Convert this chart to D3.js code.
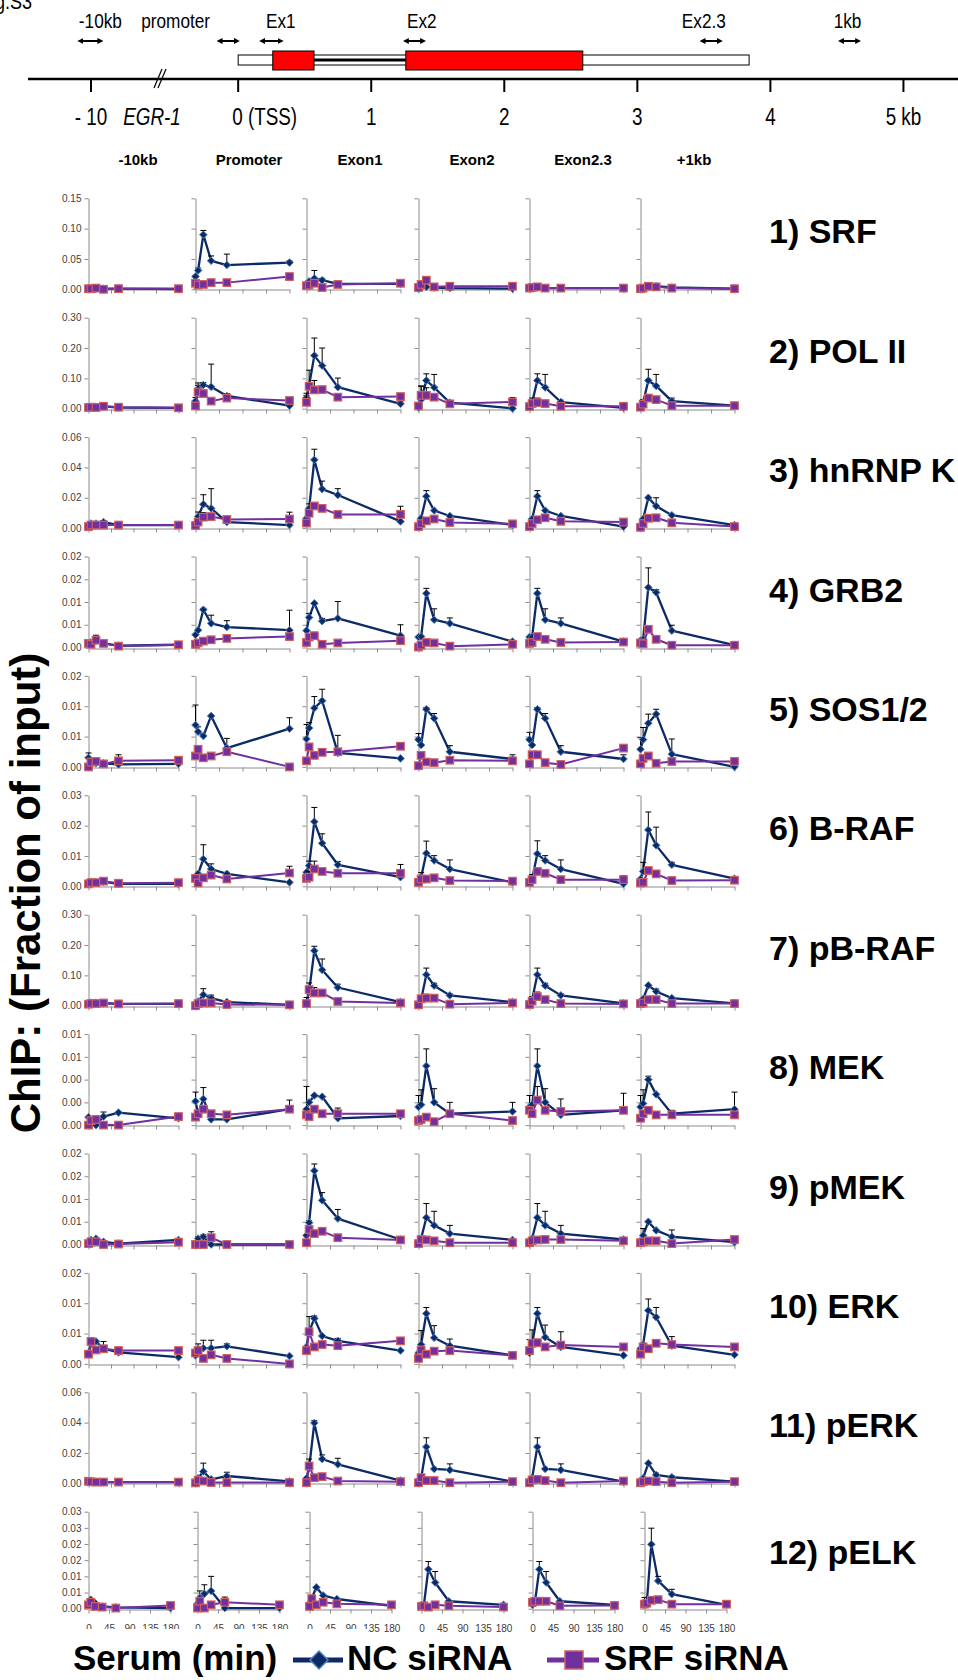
<!DOCTYPE html>
<html>
<head>
<meta charset="utf-8">
<script src="https://cdn.jsdelivr.net/npm/d3@7"></script>
<style>
body { margin: 0; background: #fff; }
svg { display: block; }
text { font-family: 'Liberation Sans', Arial, sans-serif; }
</style>
</head>
<body>
<script>
// time points (min) and panel layout labels
const times = [0, 5, 15, 30, 60, 180];
const xTicks = [0, 45, 90, 135, 180];
const regions = ['-10kb', 'Promoter', 'Exon1', 'Exon2', 'Exon2.3', '+1kb'];
const targets = ['1) SRF', '2) POL II', '3) hnRNP K', '4) GRB2', '5) SOS1/2', '6) B-RAF',
  '7) pB-RAF', '8) MEK', '9) pMEK', '10) ERK', '11) pERK', '12) pELK'];

const yMax = [0.15, 0.30, 0.06, 0.02, 0.015, 0.03, 0.30, 0.008, 0.02, 0.015, 0.06, 0.03];
const yTicks = [
  [0, 0.05, 0.10, 0.15], [0, 0.1, 0.2, 0.3], [0, 0.02, 0.04, 0.06],
  [0, 0.005, 0.01, 0.015, 0.02], [0, 0.005, 0.01, 0.015], [0, 0.01, 0.02, 0.03],
  [0, 0.1, 0.2, 0.3], [0, 0.002, 0.004, 0.006, 0.008], [0, 0.005, 0.01, 0.015, 0.02],
  [0, 0.005, 0.01, 0.015], [0, 0.02, 0.04, 0.06], [0, 0.005, 0.01, 0.015, 0.02, 0.025, 0.03]
];
const yTickLabels = [
  ['0.00', '0.05', '0.10', '0.15'], ['0.00', '0.10', '0.20', '0.30'], ['0.00', '0.02', '0.04', '0.06'],
  ['0.00', '0.01', '0.01', '0.02', '0.02'], ['0.00', '0.01', '0.01', '0.02'], ['0.00', '0.01', '0.02', '0.03'],
  ['0.00', '0.10', '0.20', '0.30'], ['0.00', '0.00', '0.00', '0.01', '0.01'], ['0.00', '0.01', '0.01', '0.02', '0.02'],
  ['0.00', '0.01', '0.01', '0.02'], ['0.00', '0.02', '0.04', '0.06'], ['0.00', '0.01', '0.01', '0.02', '0.02', '0.03', '0.03']
];

// NC siRNA means [row][region][time]
const ncMean = [
  [[0.001,0.001,0.001,0.001,0.001,0.0005],[0.021,0.031,0.090,0.047,0.040,0.044],[0.009,0.013,0.018,0.015,0.009,0.009],[0.001,0.003,0.004,0.003,0.002,0.001],[0.002,0.002,0.003,0.002,0.002,0.002],[0.001,0.002,0.004,0.005,0.003,0.001]],
  [[0.004,0.005,0.006,0.008,0.004,0.003],[0.025,0.065,0.078,0.072,0.042,0.010],[0.036,0.077,0.175,0.142,0.071,0.016],[0.004,0.030,0.093,0.070,0.020,0.001],[0.005,0.020,0.093,0.070,0.022,0.003],[0.005,0.020,0.093,0.075,0.025,0.010]],
  [[0.002,0.003,0.003,0.004,0.002,0.002],[0.002,0.0076,0.0157,0.013,0.004,0.002],[0.0065,0.013,0.045,0.0257,0.0218,0.0044],[0.0007,0.0065,0.021,0.0116,0.008,0.002],[0.001,0.006,0.021,0.0116,0.008,0.001],[0.001,0.006,0.020,0.0145,0.0085,0.002]],
  [[0.0009,0.0011,0.0015,0.0009,0.0004,0.0006],[0.0028,0.0038,0.0083,0.0053,0.0045,0.0038],[0.0037,0.0066,0.0097,0.0058,0.0064,0.0026],[0.0023,0.0024,0.0119,0.0061,0.0053,0.0013],[0.0023,0.0023,0.0119,0.0061,0.0053,0.0013],[0.0015,0.0018,0.0132,0.0121,0.0037,0.0005]],
  [[0.0015,0.0009,0.0006,0.0006,0.0004,0.0005],[0.0069,0.0058,0.0051,0.0084,0.0031,0.0063],[0.0046,0.0064,0.0097,0.0109,0.0023,0.0014],[0.0045,0.0036,0.0095,0.008,0.0025,0.0013],[0.0045,0.0036,0.0095,0.008,0.0025,0.0013],[0.0029,0.0045,0.0072,0.0087,0.0021,0.0]],
  [[0.0012,0.0015,0.0013,0.0015,0.0008,0.0008],[0.0024,0.0041,0.009,0.0057,0.0041,0.0013],[0.0046,0.0068,0.0213,0.0142,0.0071,0.003],[0.0013,0.003,0.0109,0.0085,0.0057,0.0013],[0.0013,0.0024,0.0107,0.0085,0.0057,0.0008],[0.0024,0.0049,0.0186,0.0135,0.0071,0.0025]],
  [[0.008,0.01,0.01,0.008,0.006,0.006],[0.003,0.014,0.036,0.025,0.012,0.003],[0.009,0.047,0.181,0.118,0.060,0.012],[0.007,0.020,0.102,0.066,0.034,0.012],[0.007,0.020,0.102,0.066,0.034,0.008],[0.014,0.022,0.067,0.047,0.025,0.008]],
  [[0.0007,0.0004,0.0,0.00075,0.0011,0.0006],[0.0021,0.001,0.0023,0.0005,0.0005,0.0014],[0.0014,0.002,0.0026,0.0025,0.0006,0.0008],[0.0016,0.0018,0.0052,0.002,0.001,0.0012],[0.0016,0.0018,0.0052,0.002,0.0009,0.0013],[0.0016,0.0019,0.004,0.0027,0.001,0.0014]],
  [[0.0006,0.001,0.0013,0.0006,0.0002,0.001],[0.0,0.0013,0.0017,0.0,0.0,0.0],[0.002,0.0048,0.0162,0.0097,0.0057,0.0011],[0.0002,0.0013,0.0059,0.0042,0.0024,0.001],[0.0002,0.0013,0.0059,0.0042,0.0024,0.0011],[0.0006,0.002,0.005,0.0031,0.0017,0.0005]],
  [[0.0018,0.0033,0.0037,0.0025,0.0019,0.0011],[0.0014,0.0025,0.0026,0.0026,0.0029,0.0013],[0.0028,0.0053,0.0075,0.0046,0.0038,0.0022],[0.0018,0.0032,0.0083,0.0043,0.003,0.0014],[0.0018,0.0032,0.0083,0.0044,0.0028,0.0014],[0.0025,0.0032,0.0088,0.0077,0.003,0.0015]],
  [[0.0015,0.0013,0.001,0.0008,0.0008,0.0008],[0.0004,0.0033,0.0078,0.0026,0.0048,0.0013],[0.0033,0.01,0.0398,0.016,0.0125,0.0018],[0.0018,0.0033,0.024,0.0095,0.0088,0.0011],[0.0018,0.0033,0.024,0.0095,0.0088,0.0011],[0.0011,0.0033,0.0132,0.0055,0.004,0.0011]],
  [[0.0012,0.0028,0.0017,0.0007,0.0004,0.0002],[0.0015,0.0033,0.0046,0.0055,0.0002,0.0002],[0.0017,0.0033,0.0066,0.0041,0.003,0.0009],[0.0009,0.0009,0.0122,0.0081,0.0023,0.0012],[0.0012,0.0017,0.0122,0.0081,0.0023,0.0012],[0.0012,0.0017,0.0199,0.0086,0.0045,0.0012]]
];

// SRF siRNA means [row][region][time]
const srfMean = [
  [[0.001,0.001,0.002,0.000,0.001,0.001],[0.010,0.007,0.008,0.011,0.011,0.021],[0.006,0.007,0.010,0.003,0.008,0.010],[0.003,0.008,0.015,0.004,0.005,0.005],[0.002,0.003,0.004,0.002,0.002,0.002],[0.001,0.002,0.005,0.004,0.002,0.001]],
  [[0.004,0.005,0.004,0.008,0.005,0.003],[0.009,0.055,0.050,0.025,0.035,0.027],[0.021,0.074,0.062,0.063,0.038,0.040],[0.009,0.044,0.044,0.038,0.016,0.022],[0.007,0.017,0.020,0.017,0.008,0.008],[0.005,0.015,0.035,0.030,0.010,0.010]],
  [[0.001,0.002,0.002,0.002,0.002,0.002],[0.0017,0.004,0.0072,0.0076,0.0057,0.006],[0.0033,0.0098,0.0146,0.013,0.009,0.009],[0.001,0.003,0.0048,0.006,0.0037,0.0028],[0.001,0.003,0.0055,0.0068,0.0045,0.004],[0.0005,0.003,0.0065,0.0068,0.0035,0.001]],
  [[0.0009,0.0007,0.0016,0.0009,0.0003,0.0006],[0.0007,0.001,0.0014,0.0017,0.002,0.0024],[0.0011,0.0023,0.0026,0.0007,0.001,0.0015],[0.0001,0.0005,0.0011,0.001,0.0003,0.0007],[0.0009,0.0011,0.0024,0.0018,0.0011,0.0012],[0.001,0.0008,0.004,0.0018,0.0005,0.0005]],
  [[0.0,0.0008,0.0009,0.0005,0.001,0.0011],[0.0018,0.0029,0.0015,0.0018,0.0025,0.0],[0.001,0.0033,0.0019,0.0024,0.0025,0.0034],[0.0002,0.0019,0.0008,0.0007,0.0011,0.001],[0.0005,0.002,0.002,0.0007,0.0004,0.0031],[0.0005,0.0014,0.0018,0.0006,0.0009,0.0009]],
  [[0.0008,0.0012,0.0012,0.0017,0.001,0.0012],[0.0026,0.0011,0.0028,0.0037,0.0024,0.0044],[0.0026,0.003,0.0057,0.0049,0.0043,0.0043],[0.0013,0.0024,0.0024,0.0028,0.0019,0.0017],[0.0013,0.0022,0.0049,0.0043,0.0022,0.0022],[0.0011,0.0013,0.0052,0.0041,0.0019,0.002]],
  [[0.005,0.007,0.007,0.009,0.006,0.007],[0.0,0.007,0.009,0.009,0.004,0.003],[0.007,0.053,0.042,0.042,0.014,0.009],[0.003,0.023,0.025,0.025,0.005,0.009],[0.004,0.015,0.030,0.020,0.007,0.006],[0.007,0.009,0.020,0.020,0.007,0.007]],
  [[0.0,0.0004,0.0005,0.0,0.0,0.00075],[0.0007,0.001,0.0014,0.001,0.0009,0.0014],[0.0009,0.00075,0.0014,0.001,0.001,0.001],[0.0004,0.0005,0.0007,0.0003,0.001,0.0004],[0.0013,0.001,0.0022,0.0013,0.0012,0.0013],[0.0006,0.001,0.0013,0.0009,0.0009,0.0009]],
  [[0.0002,0.0006,0.0006,0.0,0.0001,0.0005],[0.0,0.0,0.0,0.0015,0.0,0.0],[0.0004,0.0033,0.0024,0.0029,0.0015,0.001],[0.0002,0.0011,0.001,0.0008,0.0004,0.0004],[0.0004,0.0008,0.001,0.0011,0.0011,0.0008],[0.0004,0.0006,0.0008,0.0008,0.0002,0.0011]],
  [[0.0016,0.0037,0.0023,0.0025,0.0022,0.0022],[0.0018,0.0022,0.0009,0.0015,0.0009,0.0],[0.0022,0.0053,0.0028,0.0032,0.003,0.0038],[0.0009,0.0023,0.0016,0.0021,0.0022,0.0014],[0.0022,0.0034,0.0035,0.0028,0.0031,0.0028],[0.0016,0.0028,0.0025,0.0034,0.0032,0.0028]],
  [[0.0013,0.001,0.0008,0.0008,0.0008,0.0008],[0.0003,0.002,0.0015,0.0005,0.0005,0.0005],[0.0004,0.0114,0.0037,0.0044,0.0015,0.0011],[0.0004,0.0037,0.0018,0.0018,0.0004,0.0011],[0.0004,0.0022,0.0026,0.0018,0.0004,0.0015],[0.0004,0.0011,0.0015,0.0011,0.0004,0.0011]],
  [[0.0012,0.002,0.0007,0.0005,0.0002,0.001],[0.0002,0.0023,0.0002,0.0012,0.002,0.0012],[0.0007,0.0031,0.0012,0.002,0.0015,0.0012],[0.0007,0.0009,0.0005,0.0012,0.0009,0.0005],[0.002,0.0023,0.0023,0.0023,0.0009,0.001],[0.0014,0.0017,0.0026,0.0028,0.0014,0.0014]]
];

// upper error bars (0 = none shown)
const Z = [0, 0, 0, 0, 0, 0];
const ncErr = [
  [Z,[0.002,0.004,0.007,0.008,0.018,0.003],[0,0,0.013,0.003,0,0],Z,Z,Z],
  [Z,[0.012,0.012,0.008,0.075,0.008,0.004],[0.008,0.05,0.058,0.058,0.03,0.007],[0.005,0.045,0.022,0.043,0.005,0],[0.003,0.015,0.022,0.043,0.006,0],[0.003,0.01,0.037,0.038,0.01,0]],
  [[0,0,0,0.001,0,0],[0,0.003,0.0063,0.013,0,0],[0,0.003,0.007,0.0053,0.0042,0],[0,0,0.0037,0,0,0],[0,0,0.0037,0,0,0],[0,0,0,0.0055,0,0]],
  [[0,0,0.0012,0,0,0],[0,0,0.0003,0.0018,0.0014,0.0044],[0,0.0009,0,0.0006,0.0037,0.0024],[0,0,0.0011,0.0024,0.0012,0],[0,0,0.0011,0.0024,0.0012,0],[0,0,0.0043,0.0006,0.0012,0]],
  [[0.0008,0,0,0,0,0],[0.0033,0.0008,0,0,0.0016,0.0018],[0.0024,0.0009,0.0019,0.0019,0.0029,0],[0.001,0,0.0003,0.0008,0.001,0.0007],[0.0012,0,0.0003,0.0008,0.001,0.0007],[0.0019,0.002,0.0015,0.0008,0.0025,0]],
  [Z,[0,0.0005,0.0047,0.0017,0.0005,0],[0,0.0015,0.0047,0.0031,0.0011,0],[0,0.0015,0.004,0.0016,0.003,0],[0,0.0015,0.0043,0.0016,0.003,0],[0,0.003,0.0059,0.006,0.0008,0]],
  [Z,[0,0,0.02,0.01,0.005,0],[0,0.028,0.015,0.036,0.011,0],[0,0,0.022,0.008,0.005,0],[0,0.01,0.022,0.008,0.005,0],[0,0,0,0.008,0,0]],
  [[0,0,0,0.0004,0,0],[0.0008,0,0.001,0,0,0.0008],[0.002,0,0,0,0.0009,0],[0.001,0.0013,0.0015,0.0012,0.001,0.0008],[0.001,0,0.0015,0.0012,0.0014,0.0015],[0.001,0.0012,0.0003,0,0.0003,0.0015]],
  [Z,[0,0.0004,0.0004,0,0,0],[0,0.0004,0.0015,0.0017,0.002,0],[0,0,0.0031,0.0031,0.0018,0],[0,0,0.0031,0.0031,0.0018,0],[0,0.0015,0,0,0.0015,0]],
  [[0,0.0004,0,0.0012,0.0002,0],[0,0.0008,0.0013,0.0013,0.0004,0],[0,0.0025,0.0004,0,0.0004,0],[0,0.0023,0.001,0.002,0.0011,0],[0.0022,0,0.001,0.002,0.0025,0],[0,0,0.0019,0.0016,0.0015,0]],
  [Z,[0,0,0.0055,0,0.0025,0],[0,0.006,0.0015,0.0027,0.004,0],[0,0,0.006,0,0.004,0],[0,0,0.006,0,0.004,0],[0,0,0,0.0012,0.0009,0]],
  [[0,0.0003,0,0,0,0],[0,0.0022,0.0028,0.0045,0,0],[0,0.0008,0,0,0,0],[0,0,0.0024,0.0034,0,0],[0,0.0005,0.0024,0.0034,0,0],[0.0023,0,0.005,0.0014,0.0015,0]]
];
const srfErr = [
  [Z,Z,Z,Z,Z,Z],
  [Z,[0,0.03,0,0,0.005,0.005],[0.03,0,0.031,0,0,0.01],[0,0.03,0.025,0,0,0.015],[0,0.01,0.015,0,0,0],[0,0.01,0.012,0,0,0]],
  [Z,[0,0,0.003,0,0,0.0045],[0,0,0,0,0,0.0054],Z,Z,Z],
  [Z,[0,0,0.0007,0,0,0],Z,Z,[0.0007,0.0008,0,0.0006,0.0003,0],[0,0,0.0004,0,0,0]],
  [[0,0,0,0,0.001,0],[0,0,0,0.0004,0,0],Z,Z,Z,Z],
  [Z,[0,0,0,0,0,0.0022],[0,0.002,0.0026,0,0,0.0029],Z,[0,0,0,0,0,0.0013],Z],
  [Z,Z,[0.02,0,0.018,0,0,0],[0,0,0.013,0,0,0],[0,0,0.015,0,0,0],Z],
  [Z,Z,Z,Z,[0,0,0.0012,0,0,0],Z],
  [Z,[0,0,0,0.0013,0,0],Z,Z,Z,Z],
  [[0,0.0004,0,0,0,0],Z,[0,0,0,0,0,0.0005],Z,[0,0.0022,0,0,0,0],Z],
  [Z,Z,Z,Z,Z,Z],
  [Z,[0,0,0,0,0.0016,0],Z,Z,Z,Z]
];

// EGR-1 gene map (kb)
const geneTicks = [-10, 0, 1, 2, 3, 4, 5];
const geneTickLabels = ['- 10', '0 (TSS)', '1', '2', '3', '4', '5 kb'];
const probes = ['-10kb', 'promoter', 'Ex1', 'Ex2', 'Ex2.3', '1kb'];
const probeLabelKb = [-9.93, -0.47, 0.32, 1.38, 3.5, 4.58];
const probeFrom = [-10.08, -0.14, 0.18, 1.26, 3.49, 4.53];
const probeTo = [-9.93, -0.01, 0.32, 1.39, 3.62, 4.66];
const geneSpan = [0, 3.84];
const exons = [[0.26, 0.57], [1.26, 2.59]];

const ncColor = '#0c2a66', ncEdge = '#4f81bd';
const srfColor = '#7030a0', srfEdge = '#d0605e';

const svg = d3.select('body').append('svg')
  .attr('width', 958)
  .attr('height', 1680);

// ---------- gene diagram ----------
const kb = d3.scaleLinear().domain([-10.47, -9.5, -0.58, 5.41]).range([28, 158, 161, 958]);
const gene = svg.append('g');

gene.append('text')
  .attr('transform', 'translate(32,9) scale(0.82,1)')
  .attr('text-anchor', 'end')
  .style('font-size', '22px')
  .text('Fig.S3');

gene.selectAll('.plabel')
  .data(probes)
  .enter()
  .append('text')
  .attr('class', 'plabel')
  .attr('transform', (d, i) => `translate(${kb(probeLabelKb[i])},28) scale(0.82,1)`)
  .attr('text-anchor', 'middle')
  .style('font-size', '21px')
  .text(d => d);

svg.append('defs').append('marker')
  .attr('id', 'ah')
  .attr('viewBox', '0 0 10 10')
  .attr('refX', 5).attr('refY', 5)
  .attr('markerWidth', 3).attr('markerHeight', 3)
  .attr('orient', 'auto-start-reverse')
  .append('path')
  .attr('d', 'M0,0L10,5L0,10Z')
  .attr('fill', '#000');

gene.selectAll('.parrow')
  .data(probes)
  .enter()
  .append('line')
  .attr('class', 'parrow')
  .attr('x1', (d, i) => kb(probeFrom[i]))
  .attr('x2', (d, i) => kb(probeTo[i]))
  .attr('y1', 41).attr('y2', 41)
  .attr('stroke', '#000')
  .attr('stroke-width', 2)
  .attr('marker-start', 'url(#ah)')
  .attr('marker-end', 'url(#ah)');

gene.append('rect')
  .attr('x', kb(geneSpan[0])).attr('y', 55)
  .attr('width', kb(geneSpan[1]) - kb(geneSpan[0])).attr('height', 10)
  .attr('fill', '#fff').attr('stroke', '#000').attr('stroke-width', 1);
gene.append('line')
  .attr('x1', kb(exons[0][1])).attr('x2', kb(exons[1][0]))
  .attr('y1', 60).attr('y2', 60)
  .attr('stroke', '#000').attr('stroke-width', 3);
gene.selectAll('.exon')
  .data(exons)
  .enter()
  .append('rect')
  .attr('class', 'exon')
  .attr('x', d => kb(d[0])).attr('y', 51)
  .attr('width', d => kb(d[1]) - kb(d[0])).attr('height', 19)
  .attr('fill', '#ff0000').attr('stroke', '#000').attr('stroke-width', 1);

gene.append('line')
  .attr('x1', kb.range()[0]).attr('x2', 958)
  .attr('y1', 79).attr('y2', 79)
  .attr('stroke', '#000').attr('stroke-width', 2.5);
gene.selectAll('.gtick')
  .data(geneTicks)
  .enter()
  .append('line')
  .attr('class', 'gtick')
  .attr('x1', d => kb(d)).attr('x2', d => kb(d))
  .attr('y1', 79).attr('y2', 92)
  .attr('stroke', '#000').attr('stroke-width', 2);
[0, 4].forEach(dx => {
  gene.append('line')
    .attr('x1', 154 + dx).attr('y1', 88)
    .attr('x2', 162 + dx).attr('y2', 69)
    .attr('stroke', '#000').attr('stroke-width', 1.2);
});
gene.selectAll('.glabel')
  .data(geneTickLabels)
  .enter()
  .append('text')
  .attr('class', 'glabel')
  .attr('transform', (d, i) => `translate(${kb(geneTicks[i]) + (i === 1 ? -6 : 0)},125) scale(0.82,1)`)
  .attr('text-anchor', (d, i) => i === 1 ? 'start' : 'middle')
  .style('font-size', '23px')
  .text(d => d);
gene.append('text')
  .attr('transform', 'translate(152,125) scale(0.82,1)')
  .attr('text-anchor', 'middle')
  .style('font-size', '23px')
  .style('font-style', 'italic')
  .text('EGR-1');

// ---------- panel grid ----------
const colX = [88, 195, 306, 418, 529, 640];
const colW = [90, 94, 94, 94, 94, 94];
const colXLast = [88, 197, 309, 421, 532, 644];

svg.selectAll('.colhead')
  .data(regions)
  .enter()
  .append('text')
  .attr('class', 'colhead')
  .attr('x', (d, i) => colX[i] + (i === 0 ? 50 : 54))
  .attr('y', 165)
  .attr('text-anchor', 'middle')
  .style('font-size', '15px')
  .style('font-weight', 'bold')
  .text(d => d);

const diamond = r => `M0,${-r}L${r},0L0,${r}L${-r},0Z`;

function drawSeries(g, x, y, vals, errs, color, edge, kind) {
  const pts = times.map((t, i) => [t, vals[i], errs[i]]);
  g.append('path')
    .datum(pts)
    .attr('fill', 'none')
    .attr('stroke', color)
    .attr('stroke-width', kind === 'nc' ? 2.3 : 2)
    .attr('stroke-linejoin', 'round')
    .attr('d', d3.line().x(d => x(d[0])).y(d => y(d[1])));
  const eb = g.selectAll(null)
    .data(pts.filter(d => d[2] > 0))
    .enter()
    .append('g')
    .attr('stroke', '#000')
    .attr('stroke-width', 1);
  eb.append('line')
    .attr('x1', d => x(d[0])).attr('x2', d => x(d[0]))
    .attr('y1', d => y(d[1])).attr('y2', d => y(d[1] + d[2]));
  eb.append('line')
    .attr('x1', d => x(d[0]) - 3).attr('x2', d => x(d[0]) + 3)
    .attr('y1', d => y(d[1] + d[2])).attr('y2', d => y(d[1] + d[2]));
  if (kind === 'nc') {
    g.selectAll(null)
      .data(pts)
      .enter()
      .append('path')
      .attr('transform', d => `translate(${x(d[0])},${y(d[1])})`)
      .attr('d', diamond(3.8))
      .attr('fill', color)
      .attr('stroke', edge)
      .attr('stroke-width', 1);
  } else {
    g.selectAll(null)
      .data(pts)
      .enter()
      .append('rect')
      .attr('x', d => x(d[0]) - 3.8)
      .attr('y', d => y(d[1]) - 3.8)
      .attr('width', 7.6).attr('height', 7.6)
      .attr('fill', color)
      .attr('stroke', edge)
      .attr('stroke-width', 1.2);
  }
}

targets.forEach((target, r) => {
  const last = r === targets.length - 1;
  const rowTop = 198.3 + r * 119.4;
  const h = last ? 97 : 91;
  const y = d3.scaleLinear().domain([0, yMax[r]]).range([rowTop + h, rowTop]);

  regions.forEach((reg, c) => {
    const x0 = Math.round(last ? colXLast[c] : colX[c]) + 0.5;
    const w = last ? 82 : colW[c];
    const x = d3.scaleLinear().domain([0, 180]).range([x0, x0 + w]);
    const g = svg.append('g');

    const ya = g.append('g')
      .attr('transform', `translate(${x0},0)`)
      .call(d3.axisLeft(y).tickValues(yTicks[r]).tickSize(4).tickSizeOuter(0)
        .tickFormat(c === 0 ? (d, i) => yTickLabels[r][i] : () => ''));
    const xa = g.append('g')
      .attr('transform', `translate(0,${Math.round(rowTop + h) + 0.5})`)
      .call(d3.axisBottom(x).tickValues(xTicks).tickSize(4).tickSizeOuter(0).tickPadding(11)
        .tickFormat(last ? d => d : () => ''));
    [ya, xa].forEach(a => {
      a.select('.domain').attr('stroke', '#8c8c8c');
      a.selectAll('.tick line').attr('stroke', '#8c8c8c');
      a.selectAll('.tick text').attr('fill', '#404040').style('font-size', '10px');
    });

    drawSeries(g, x, y, ncMean[r][c], ncErr[r][c], ncColor, ncEdge, 'nc');
    drawSeries(g, x, y, srfMean[r][c], srfErr[r][c], srfColor, srfEdge, 'srf');
  });

  svg.append('text')
    .attr('x', 769)
    .attr('y', rowTop + (last ? 52 : 45))
    .style('font-size', '34px')
    .style('font-weight', 'bold')
    .text(target);
});

// y title
svg.append('text')
  .attr('transform', 'translate(40,893) rotate(-90)')
  .attr('text-anchor', 'middle')
  .style('font-size', '42px')
  .style('font-weight', 'bold')
  .text('ChIP: (Fraction of input)');

// ---------- legend ----------
const leg = svg.append('g');
leg.append('rect')
  .attr('x', 55).attr('y', 1629).attr('width', 313).attr('height', 51)
  .attr('fill', '#fff');
leg.append('text')
  .attr('x', 73).attr('y', 1670)
  .style('font-size', '35px').style('font-weight', 'bold')
  .text('Serum (min)');

leg.append('line')
  .attr('x1', 293).attr('x2', 343).attr('y1', 1660).attr('y2', 1660)
  .attr('stroke', ncColor).attr('stroke-width', 5);
leg.append('path')
  .attr('transform', 'translate(319,1660)')
  .attr('d', diamond(9))
  .attr('fill', ncColor).attr('stroke', ncEdge).attr('stroke-width', 1.5);
leg.append('text')
  .attr('x', 347).attr('y', 1670)
  .style('font-size', '35px').style('font-weight', 'bold')
  .text('NC siRNA');

leg.append('line')
  .attr('x1', 547).attr('x2', 599).attr('y1', 1660).attr('y2', 1660)
  .attr('stroke', srfColor).attr('stroke-width', 5);
leg.append('rect')
  .attr('x', 565).attr('y', 1651).attr('width', 18).attr('height', 18)
  .attr('fill', srfColor).attr('stroke', srfEdge).attr('stroke-width', 1.5);
leg.append('text')
  .attr('x', 604).attr('y', 1670)
  .style('font-size', '35px').style('font-weight', 'bold')
  .text('SRF siRNA');
</script>
</body>
</html>
